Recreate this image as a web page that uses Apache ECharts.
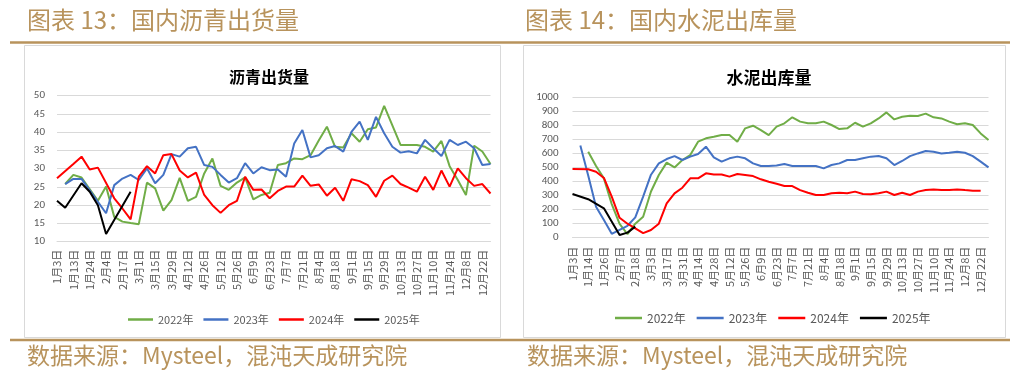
<!DOCTYPE html>
<html>
<head>
<meta charset="utf-8">
<script src="https://cdn.jsdelivr.net/npm/echarts@6/dist/echarts.min.js"></script>
<style>
html,body{margin:0;padding:0;background:#ffffff;}
#c{width:1026px;height:382px;}
</style>
</head>
<body>
<div id="c"></div>
<script>
// ---------- data: asphalt shipments (沥青出货量) ----------
const asphaltDates = ['1月3日','1月7日','1月13日','1月20日','1月24日','1月28日','2月4日','2月10日','2月17日','2月24日',
  '3月1日','3月8日','3月15日','3月22日','3月29日','4月5日','4月12日','4月19日','4月26日','5月5日',
  '5月12日','5月19日','5月26日','6月2日','6月9日','6月16日','6月23日','6月30日','7月7日','7月14日',
  '7月21日','7月28日','8月4日','8月11日','8月18日','8月25日','9月1日','9月8日','9月15日','9月22日',
  '9月29日','10月6日','10月13日','10月20日','10月27日','11月3日','11月10日','11月17日','11月24日','12月1日',
  '12月8日','12月15日','12月22日','12月29日'];
const asphalt2022 = [null,25.8,28.3,27.6,null,21.2,25.1,16.8,15.5,15.1,14.8,26.2,24.6,18.5,21.4,27.5,21.2,22.3,28.7,32.8,
  25.3,24.2,26.2,27.6,21.6,22.8,23.4,31.0,31.5,32.8,32.6,33.7,37.7,41.5,36.0,35.8,39.7,37.4,40.8,41.3,
  47.2,null,36.5,36.5,36.5,36.0,34.7,37.6,30.7,26.9,22.8,36.3,34.7,31.3];
const asphalt2023 = [null,25.8,27.2,27.2,null,null,17.8,25.5,27.3,28.3,26.9,30.1,26.0,28.3,34.0,33.3,35.6,36.0,31.0,30.5,
  28.3,26.2,27.4,31.5,28.7,30.4,29.6,29.8,27.8,36.9,40.6,33.1,33.7,35.6,36.2,34.7,40.1,42.9,37.9,44.2,
  39.7,36.0,34.4,34.8,34.2,37.9,35.6,33.5,37.9,36.5,37.4,35.6,31.0,31.3];
const asphalt2024 = [27.4,null,31.3,33.3,29.8,30.3,null,21.9,19.1,16.1,27.8,30.7,28.7,33.7,34.0,29.5,27.6,28.9,22.8,20.0,
  17.9,20.0,21.2,27.8,24.2,24.3,21.9,23.9,25.1,25.1,28.1,25.3,25.7,22.6,24.8,21.2,27.1,26.6,25.5,22.3,
  26.7,28.1,25.8,24.8,23.7,27.8,24.2,29.5,25.1,30.1,27.4,25.3,25.8,23.2];
const asphalt2025 = [21.2,19.3,null,26.0,23.7,20.0,12.1,null,null,23.7];
const asphaltTicks = {min:10, max:50, step:5};

// ---------- data: cement outbound (水泥出库量) ----------
const cementDates = ['1月3日','1月9日','1月14日','1月20日','1月26日','2月1日','2月7日','2月12日','2月18日','2月24日',
  '3月3日','3月10日','3月17日','3月24日','3月31日','4月7日','4月14日','4月21日','4月28日','5月5日',
  '5月12日','5月19日','5月26日','6月2日','6月9日','6月16日','6月23日','6月30日','7月7日','7月14日',
  '7月21日','7月28日','8月4日','8月11日','8月18日','8月25日','9月1日','9月8日','9月15日','9月22日',
  '9月29日','10月6日','10月13日','10月20日','10月27日','11月3日','11月10日','11月17日','11月24日','12月1日',
  '12月8日','12月15日','12月22日','12月29日'];
const cement2022 = [null,null,614,512,424,240,98,25,100,150,330,448,536,502,555,590,686,710,721,733,
  733,686,781,800,769,733,793,817,860,829,817,817,829,805,776,781,821,793,817,852,
  895,845,864,871,869,886,860,852,829,810,817,805,745,698];
const cement2023 = [null,658,445,221,126,28,null,85,145,293,450,531,562,583,555,579,598,650,574,543,
  567,579,567,531,512,512,515,526,512,512,512,512,495,519,531,555,555,567,579,583,
  567,519,548,583,602,619,614,602,607,614,607,583,543,502];
const cement2024 = [490,null,489,471,427,293,142,100,67,33,55,100,245,317,357,424,424,460,452,452,
  436,455,448,440,417,400,385,369,369,340,321,305,305,317,321,317,329,312,310,317,
  329,305,321,305,329,340,345,340,340,345,340,336,336];
const cement2025 = [312,null,275,null,210,null,19,36,79];
const cementTicks = {min:0, max:1000, step:100};

const seriesNames = ['2022年','2023年','2024年','2025年'];
const seriesColors = ['#70ad47','#4472c4','#ff0000','#000000'];

// ---------- chart ----------
const gold = '#b8935c';
const gray = '#595959';
const gridGray = '#d9d9d9';
const cjk = '"Noto Sans CJK SC", "Noto Sans", sans-serif';

function mkSeries(arrs, idx) {
  return arrs.map((d, i) => ({
    name: seriesNames[i], type: 'line', xAxisIndex: idx, yAxisIndex: idx,
    data: d, showSymbol: false, symbol: 'none', connectNulls: true,
    lineStyle: {width: 2, color: seriesColors[i]}, itemStyle: {color: seriesColors[i]},
    emphasis: {disabled: true}
  }));
}

function xAx(idx, cats, margin) {
  return {
    type: 'category', gridIndex: idx, data: cats, boundaryGap: false,
    axisLine: {show: true, lineStyle: {color: gridGray, width: 1}},
    axisTick: {show: false},
    axisLabel: {interval: 1, rotate: 90, fontSize: 11, color: gray, margin: margin, fontFamily: cjk},
    splitLine: {show: false}
  };
}
function yAx(idx, t, margin, fs) {
  return {
    type: 'value', gridIndex: idx, min: t.min, max: t.max, interval: t.step,
    axisLine: {show: false}, axisTick: {show: false},
    axisLabel: {fontSize: fs, color: gray, margin: margin, formatter: v => String(v),
      fontFamily: 'Calibri, Carlito, "Liberation Sans", sans-serif'},
    splitLine: {show: true, lineStyle: {color: gridGray, width: 1}}
  };
}

const chart = echarts.init(document.getElementById('c'), null, {renderer: 'canvas'});
chart.setOption({
  animation: false,
  backgroundColor: '#ffffff',
  title: [
    {text: '沥青出货量', left: 264, top: 64, textAlign: 'center',
     textStyle: {fontSize: 16, fontWeight: 'bold', color: '#000', fontFamily: cjk}},
    {text: '水泥出库量', left: 764, top: 64, textAlign: 'center',
     textStyle: {fontSize: 17, fontWeight: 'bold', color: '#000', fontFamily: cjk}}
  ],
  legend: [
    {data: seriesNames, left: 123, top: 309, icon: 'rect', itemWidth: 25, itemHeight: 2.5, itemGap: 10,
     textStyle: {fontSize: 11, color: gray, fontFamily: cjk}},
    {data: seriesNames, left: 610, top: 307, icon: 'rect', itemWidth: 27, itemHeight: 2.5, itemGap: 11,
     textStyle: {fontSize: 12, color: gray, fontFamily: cjk}}
  ],
  grid: [
    {left: 57, top: 95.7, width: 433.5, height: 146},
    {left: 572.5, top: 97.7, width: 416, height: 140}
  ],
  xAxis: [xAx(0, asphaltDates, 8), xAx(1, cementDates, 9)],
  yAxis: [yAx(0, asphaltTicks, 12, 11), yAx(1, cementTicks, 14, 11)],
  series: [
    ...mkSeries([asphalt2022, asphalt2023, asphalt2024, asphalt2025], 0),
    ...mkSeries([cement2022, cement2023, cement2024, cement2025], 1)
  ],
  graphic: [
    {type: 'text', left: 27, top: 8, silent: true,
     style: {text: '图表 13：国内沥青出货量', fontSize: 24, fontFamily: cjk, fill: gold}},
    {type: 'text', left: 525, top: 8, silent: true,
     style: {text: '图表 14：国内水泥出库量', fontSize: 24, fontFamily: cjk, fill: gold}},
    {type: 'line', silent: true, shape: {x1: 10, y1: 42.5, x2: 1010, y2: 42.5},
     style: {stroke: gold, lineWidth: 2.5}},
    {type: 'rect', silent: true, shape: {x: 24.5, y: 45.5, width: 476, height: 292},
     style: {fill: 'none', stroke: gridGray, lineWidth: 1}},
    {type: 'rect', silent: true, shape: {x: 523.5, y: 45.5, width: 482, height: 292},
     style: {fill: 'none', stroke: gridGray, lineWidth: 1}},
    {type: 'line', silent: true, shape: {x1: 10, y1: 340, x2: 1010, y2: 340},
     style: {stroke: gold, lineWidth: 2.5}},
    {type: 'text', left: 27, top: 344, silent: true,
     style: {text: '数据来源：Mysteel，混沌天成研究院', fontSize: 23, fontFamily: cjk, fill: gold}},
    {type: 'text', left: 527, top: 344, silent: true,
     style: {text: '数据来源：Mysteel，混沌天成研究院', fontSize: 23, fontFamily: cjk, fill: gold}}
  ]
});
</script>
</body>
</html>
